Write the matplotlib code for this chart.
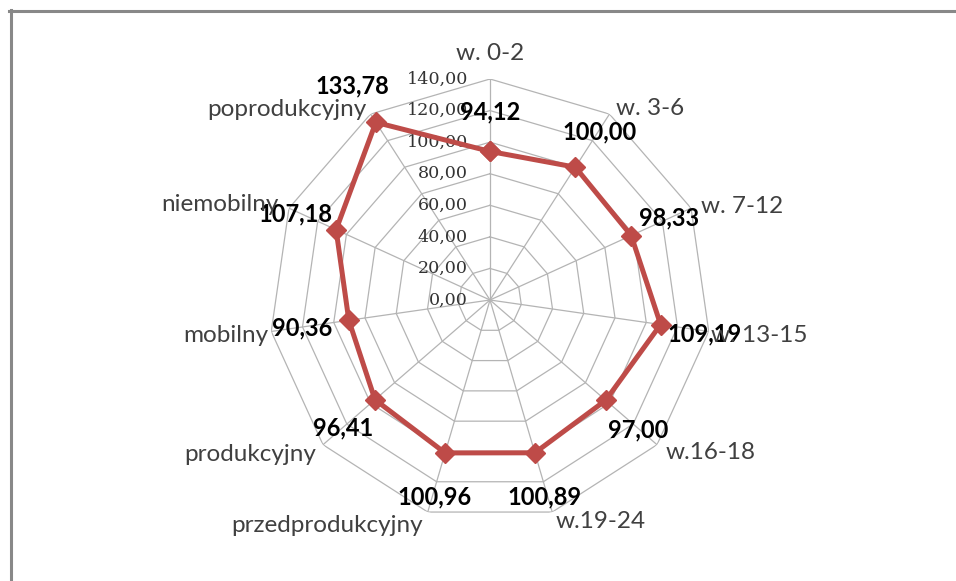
import numpy as np
import matplotlib
matplotlib.use('Agg')
import matplotlib.pyplot as plt
from matplotlib.lines import Line2D

categorias = ['w. 0-2', 'w. 3-6', 'w. 7-12', 'w. 13-15', 'w.16-18', 'w.19-24',
              'przedprodukcyjny', 'produkcyjny', 'mobilny', 'niemobilny', 'poprodukcyjny']
wartosci = [94.12, 100.00, 98.33, 109.19, 97.00, 100.89, 100.96, 96.41, 90.36, 107.18, 133.78]
poziomy = [0, 20, 40, 60, 80, 100, 120, 140]

# przesuniecia etykiet (w pikselach) i wyrownanie
off_kat = [(0, 26), (7, 6), (10, 2), (2, -4), (9, -8), (3, -9),
           (-5, -13), (-7, -10), (-3, -4), (-10, 4), (-4, 5)]
ha_kat = ['center', 'left', 'left', 'left', 'left', 'left',
          'right', 'right', 'right', 'right', 'right']
off_wart = [(0, 40), (24, 35), (38, 18), (44, -9), (32, -30), (10, -44),
            (-11, -44), (-32, -28), (-47, -8), (-41, 16), (-23, 36)]

kolor = '#BE4B48'
siatka = '#B4B4B4'

n = len(categorias)
katy = np.linspace(0, 2 * np.pi, n, endpoint=False)
katy_z = np.append(katy, katy[0])

fig = plt.figure(figsize=(9.56, 5.81), dpi=100)
ax = fig.add_axes([269 / 956, 60 / 581, 442 / 956, 442 / 581], projection='polar')
ax.set_theta_offset(np.pi / 2)
ax.set_theta_direction(-1)
ax.set_ylim(0, 140)
ax.grid(False)
ax.spines['polar'].set_visible(False)
ax.set_xticks([])
ax.set_yticks([])
ax.patch.set_alpha(0)

# siatka wielokatna
for r in poziomy[1:]:
    ax.plot(katy_z, [r] * (n + 1), color=siatka, lw=0.9, zorder=1)
for a in katy:
    ax.plot([a, a], [0, 140], color=siatka, lw=0.9, zorder=1)

# etykiety osi radialnej
for r in poziomy:
    ax.annotate(f'{r:.2f}'.replace('.', ','), xy=(0, r), xytext=(-22, 0),
                textcoords='offset pixels', ha='right', va='center',
                fontsize=12.6, family='DejaVu Serif', color='#333333', zorder=3)

# seria
w_z = np.append(wartosci, wartosci[0])
ax.plot(katy_z, w_z, color=kolor, lw=3.6, marker='D', ms=10, zorder=4)

for a, v, o in zip(katy, wartosci, off_wart):
    ax.annotate(f'{v:.2f}'.replace('.', ','), xy=(a, v), xytext=o,
                textcoords='offset pixels', ha='center', va='center',
                fontsize=17, fontweight='bold', family='Lato', color='black', zorder=5)

for a, c, o, h in zip(katy, categorias, off_kat, ha_kat):
    ax.annotate(c, xy=(a, 140), xytext=o, textcoords='offset pixels',
                ha=h, va='center', fontsize=17.5, family='Lato', color='#404040', zorder=5)

# ramka (gorna i lewa krawedz)
fig.add_artist(Line2D([9 / 956, 1], [1 - 11 / 581, 1 - 11 / 581], color='#888888', lw=2.2))
fig.add_artist(Line2D([10.5 / 956, 10.5 / 956], [0, 1 - 10 / 581], color='#888888', lw=2.2))

fig.savefig('out.png', dpi=100)
